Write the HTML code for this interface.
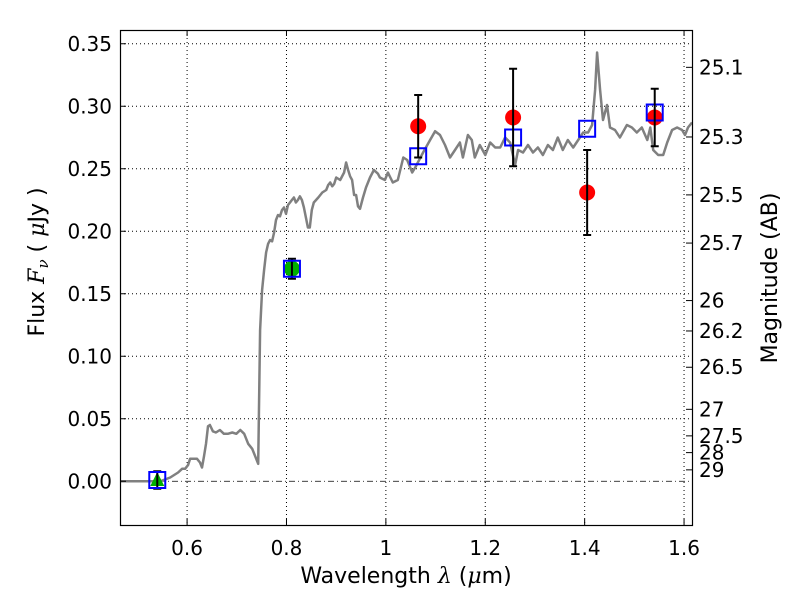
<!DOCTYPE html>
<html><head><meta charset="utf-8"><style>
body{margin:0;background:#fff;}
svg{display:block;font-family:"DejaVu Sans","Liberation Sans",sans-serif;}
</style></head><body>
<svg id="chart" width="800" height="600" viewBox="0 0 800 600">
<rect x="0" y="0" width="800" height="600" fill="#fff"/>
<g id="grid"></g>
<g id="marks"></g>
<rect x="120.5" y="30.5" width="572" height="495" fill="none" stroke="#000" stroke-width="1.2"/>
<g id="axes"></g>
<text x="406" y="583" font-size="22" text-anchor="middle">Wavelength  <tspan font-family="DejaVu Serif" font-style="italic">λ</tspan> (<tspan font-family="DejaVu Serif" font-style="italic">μ</tspan>m)</text>
<text transform="translate(44,262) rotate(-90)" font-size="22" text-anchor="middle">Flux  <tspan font-family="DejaVu Serif" font-style="italic">F<tspan font-size="15" dy="4">ν</tspan></tspan><tspan dy="-4">  (  </tspan><tspan font-family="DejaVu Serif" font-style="italic">μ</tspan>Jy )</text>
<text transform="translate(777,278) rotate(-90)" font-size="22" text-anchor="middle">Magnitude (AB)</text>
</svg>
<script>
const specLambda=[0.465,0.546,0.566,0.582,0.590,0.596,0.602,0.606,0.612,0.620,0.626,0.630,0.634,0.638,0.642,0.646,0.652,0.658,0.666,0.674,0.682,0.691,0.699,0.707,0.715,0.723,0.731,0.739,0.743,0.745,0.747,0.751,0.755,0.759,0.763,0.767,0.771,0.775,0.779,0.783,0.787,0.791,0.795,0.799,0.803,0.807,0.811,0.815,0.819,0.823,0.827,0.831,0.835,0.839,0.843,0.847,0.851,0.855,0.864,0.872,0.880,0.884,0.888,0.892,0.896,0.900,0.908,0.916,0.920,0.924,0.928,0.932,0.936,0.940,0.944,0.948,0.954,0.960,0.968,0.976,0.984,0.988,0.998,1.004,1.014,1.024,1.035,1.043,1.053,1.059,1.075,1.089,1.099,1.109,1.119,1.129,1.139,1.149,1.155,1.165,1.173,1.179,1.189,1.200,1.210,1.220,1.230,1.240,1.250,1.260,1.266,1.276,1.286,1.296,1.306,1.316,1.326,1.336,1.346,1.356,1.366,1.377,1.387,1.397,1.407,1.415,1.421,1.425,1.431,1.437,1.445,1.451,1.461,1.471,1.485,1.495,1.505,1.515,1.526,1.532,1.538,1.548,1.558,1.566,1.576,1.586,1.596,1.602,1.608,1.616];
const specFlux=[0,0,0.003,0.007,0.010,0.010,0.013,0.018,0.018,0.018,0.015,0.011,0.020,0.030,0.044,0.045,0.040,0.039,0.041,0.038,0.038,0.039,0.038,0.041,0.038,0.030,0.026,0.018,0.014,0.065,0.121,0.153,0.169,0.183,0.190,0.193,0.192,0.199,0.209,0.213,0.212,0.217,0.219,0.214,0.221,0.223,0.225,0.227,0.223,0.225,0.228,0.225,0.219,0.211,0.203,0.203,0.217,0.223,0.227,0.231,0.233,0.237,0.239,0.236,0.238,0.243,0.241,0.247,0.255,0.249,0.244,0.241,0.229,0.229,0.220,0.218,0.227,0.235,0.243,0.249,0.246,0.243,0.241,0.247,0.239,0.241,0.259,0.257,0.247,0.251,0.263,0.273,0.280,0.277,0.269,0.259,0.265,0.271,0.259,0.277,0.273,0.259,0.269,0.261,0.271,0.267,0.267,0.275,0.271,0.253,0.265,0.263,0.269,0.263,0.267,0.261,0.269,0.265,0.275,0.265,0.273,0.267,0.273,0.279,0.279,0.285,0.313,0.343,0.313,0.289,0.301,0.283,0.281,0.275,0.285,0.283,0.279,0.283,0.273,0.283,0.265,0.261,0.261,0.271,0.281,0.283,0.281,0.277,0.283,0.287];
const modelLambda=[0.540,0.811,1.065,1.256,1.405,1.541];
const modelFlux=[0.001,0.170,0.260,0.275,0.282,0.295];
const obsLambda=[1.065,1.256,1.405,1.541];
const obsFlux=[0.284,0.291,0.231,0.291];
const obsErr=[0.025,0.039,0.034,0.023];
const greenCircLambda=[0.811];
const greenCircFlux=[0.170];
const greenCircErr=[0.008];
const triLambda=[0.540];
const triFlux=[0.001];
const triErr=[0.007];
const xTicks=[0.6,0.8,1.0,1.2,1.4,1.6];
const xTickLabels=["0.6","0.8","1","1.2","1.4","1.6"];
const yTicks=[0,0.05,0.10,0.15,0.20,0.25,0.30,0.35];
const yTickLabels=["0.00","0.05","0.10","0.15","0.20","0.25","0.30","0.35"];
const magTicks=[25.1,25.3,25.5,25.7,26,26.2,26.5,27,27.5,28,29];
const magTickLabels=["25.1","25.3","25.5","25.7","26","26.2","26.5","27","27.5","28","29"];

const X0=120,X1=692,Y0=30,Y1=525;
const xmin=0.465,xmax=1.616,ymin=-0.035,ymax=0.361;
const sx=v=>X0+(v-xmin)/(xmax-xmin)*(X1-X0);
const sy=v=>Y1-(v-ymin)/(ymax-ymin)*(Y1-Y0);
const NS="http://www.w3.org/2000/svg";
function mk(tag,attrs,parent){const e=document.createElementNS(NS,tag);for(const k in attrs)e.setAttribute(k,attrs[k]);parent.appendChild(e);return e;}
const grid=document.getElementById('grid'),marks=document.getElementById('marks'),axes=document.getElementById('axes');

xTicks.forEach((t,i)=>{
  const x=sx(t);
  const g=mk('line',{x1:x,x2:x,y1:Y0,y2:Y1,stroke:'#000','stroke-width':1,'stroke-dasharray':'1,3'},grid);
  
  
  const tk=mk('line',{x1:x,x2:x,y1:Y1,y2:Y1-6,stroke:'#000'},axes);
  
  
  const tk2=mk('line',{x1:x,x2:x,y1:Y0,y2:Y0+6,stroke:'#000'},axes);
  
  
  const tx=mk('text',{x:x,y:555,'font-size':20,'text-anchor':'middle'},axes);
  tx.textContent=xTickLabels[i];
  
  
});
yTicks.forEach((t,i)=>{
  const y=sy(t);
  if(t!==0){
    const g=mk('line',{x1:X0,x2:X1,y1:y,y2:y,stroke:'#000','stroke-width':1,'stroke-dasharray':'1,3'},grid);
    
    
  }
  const tk=mk('line',{x1:X0,x2:X0+6,y1:y,y2:y,stroke:'#000'},axes);
  
  
  const tx=mk('text',{x:112,y:y+7,'font-size':20,'text-anchor':'end'},axes);
  tx.textContent=yTickLabels[i];
  
  
});
const zl=mk('line',{x1:X0,x2:X1,y1:sy(0),y2:sy(0),stroke:'#000','stroke-width':0.8,'stroke-dasharray':'6,3,1,3'},grid);


magTicks.forEach((m,i)=>{
  const f=Math.pow(10,(23.9-m)/2.5);
  const y=sy(f);
  const tk=mk('line',{x1:X1-6,x2:X1,y1:y,y2:y,stroke:'#000'},axes);
  
  
  const tx=mk('text',{x:699,y:y+7,'font-size':20},axes);
  tx.textContent=magTickLabels[i];
  
  
});

const pts=specLambda.map((l,i)=>sx(l).toFixed(1)+','+sy(specFlux[i]).toFixed(1)).join(' ');
const sp=mk('polyline',{points:pts,fill:'none',stroke:'#808080','stroke-width':2.5,'stroke-linejoin':'round'},marks);



function errbar(l,f,e){
  const x=sx(l),a=sy(f+e),b=sy(f-e);
  const g=mk('g',{stroke:'#000','stroke-width':2},marks);
  
  
  mk('line',{x1:x,x2:x,y1:a,y2:b},g);
  mk('line',{x1:x-4,x2:x+4,y1:a,y2:a},g);
  mk('line',{x1:x-4,x2:x+4,y1:b,y2:b},g);
}
triLambda.forEach((l,i)=>{
  const x=sx(l),y=sy(triFlux[i]);
  const t=mk('polygon',{points:`${x},${y-8} ${x-7},${y+6} ${x+7},${y+6}`,fill:'#00b000'},marks);
  
  
  errbar(l,triFlux[i],triErr[i]);
});
greenCircLambda.forEach((l,i)=>{
  const c=mk('circle',{cx:sx(l),cy:sy(greenCircFlux[i]),r:8,fill:'#00b000'},marks);
  
  
  errbar(l,greenCircFlux[i],greenCircErr[i]);
});
obsLambda.forEach((l,i)=>{
  const c=mk('circle',{cx:sx(l),cy:sy(obsFlux[i]),r:8,fill:'#ff0000'},marks);
  
  
});
modelLambda.forEach((l,i)=>{
  const s=mk('rect',{x:sx(l)-8,y:sy(modelFlux[i])-8,width:16,height:16,fill:'none',stroke:'#0000ff','stroke-width':2},marks);
  
  
});
obsLambda.forEach((l,i)=>errbar(l,obsFlux[i],obsErr[i]));
</script>
</body></html>
